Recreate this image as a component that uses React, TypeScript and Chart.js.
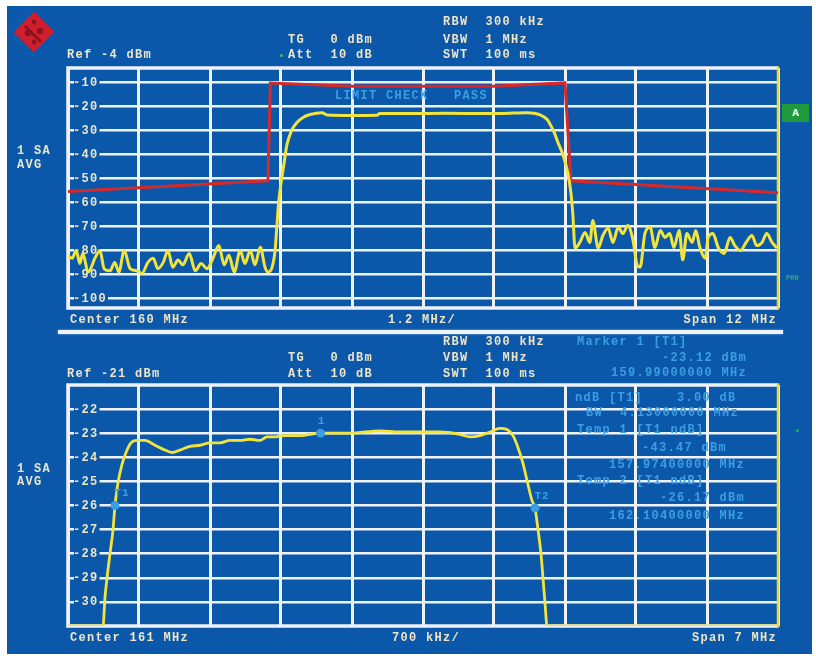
import React, { useEffect, useRef } from 'react';
import { Chart, registerables } from 'chart.js';

Chart.register(...registerables);

const BG = '#0b58ab';
const GRID = '#eef2f8';
const TRACE = '#f3e43c';
const LIMIT = '#d42a2a';
const CYAN = '#3b9ee3';
const TEXT = '#ece5c8';
const RIGHT_EDGE = '#e6d84a';

// ---------- top panel (Center 160 MHz, Span 12 MHz) ----------
const topXTicks = [154, 155.2, 156.4, 157.6, 158.8, 160, 161.2, 162.4, 163.6, 164.8, 166];
const topYTicks = [-10, -20, -30, -40, -50, -60, -70, -80, -90, -100];

const topFreq = [
  154.0, 154.07, 154.14, 154.2, 154.25, 154.34, 154.46, 154.54, 154.61, 154.71,
  154.79, 154.86, 154.95, 155.05, 155.17, 155.25, 155.35, 155.44, 155.52, 155.61,
  155.69, 155.77, 155.86, 155.94, 156.05, 156.15, 156.25, 156.35, 156.45, 156.55,
  156.64, 156.72, 156.81, 156.91, 156.99, 157.08, 157.16, 157.25, 157.33, 157.38,
  157.45, 157.5, 157.53, 157.56, 157.6, 157.65, 157.7, 157.78, 157.87, 157.98,
  158.09, 158.29, 158.38, 158.8, 159.22, 159.27, 159.8, 160.4, 161.0, 161.5,
  161.76, 161.98, 162.1, 162.15, 162.22, 162.28, 162.37, 162.45, 162.5, 162.53,
  162.57, 162.65, 162.74, 162.82, 162.87, 162.96, 163.04, 163.13, 163.21, 163.3,
  163.38, 163.46, 163.55, 163.62, 163.67, 163.75, 163.84, 163.92, 164.01, 164.09,
  164.17, 164.24, 164.33, 164.39, 164.46, 164.55, 164.61, 164.68, 164.77, 164.82,
  164.9, 164.99, 165.09, 165.19, 165.27, 165.37, 165.46, 165.56, 165.64, 165.73,
  165.81, 165.9, 165.98,
];
const topLevel = [
  -82, -83.3, -80, -85.5, -81.3, -89, -83, -80, -87.6, -88.5,
  -85, -89, -80, -87.6, -88.5, -89.6, -85, -83.3, -87.6, -85,
  -80, -87, -84, -86, -81.3, -88.5, -85.5, -87.6, -83.3, -78,
  -86, -82, -89, -80, -85.5, -80, -86, -78.7, -87, -89,
  -87, -80, -70, -60, -52, -44, -36, -30, -26.7, -24.5,
  -23.4, -22.6, -23.6, -23.8, -23.7, -23.0, -23.0, -22.9, -23.0, -22.8,
  -22.6, -23.5, -25.5, -27.5, -31, -35, -40.5, -48, -56, -64,
  -79, -76.7, -72.5, -76.7, -67.5, -79, -73.8, -70.8, -76.7, -70.4,
  -73, -69.6, -75.8, -86.2, -87, -73, -70.4, -78.8, -71.7, -74.6,
  -73, -78.8, -71.7, -84, -73, -76.7, -71.7, -78.8, -83.3, -74.6,
  -73, -78.8, -81.3, -74.6, -78, -80, -76.7, -73.8, -78, -76.7,
  -73, -76.7, -79,
];

const limitFreq = [154.0, 157.38, 157.42, 158.8, 161.2, 162.4, 162.5, 166.0];
const limitLevel = [-55.5, -51.0, -10.3, -11.6, -11.6, -10.2, -51.0, -56.0];

// ---------- bottom panel (Center 161 MHz, Span 7 MHz) ----------
const botXTicks = [157.5, 158.2, 158.9, 159.6, 160.3, 161.0, 161.7, 162.4, 163.1, 163.8, 164.5];
const botYTicks = [-22, -23, -24, -25, -26, -27, -28, -29, -30];

const botFreq = [
  157.5, 157.845, 157.865, 157.885, 157.914, 157.944, 157.963, 157.993, 158.032, 158.072,
  158.121, 158.18, 158.259, 158.358, 158.456, 158.525, 158.604, 158.703, 158.801, 158.9,
  158.999, 159.097, 159.196, 159.295, 159.393, 159.462, 159.541, 159.639, 159.787, 159.984,
  160.28, 160.576, 160.773, 160.97, 161.168, 161.365, 161.463, 161.562, 161.661, 161.759,
  161.828, 161.887, 161.937, 161.986, 162.025, 162.075, 162.104, 162.134, 162.163, 162.183,
  162.203, 162.223, 164.5,
];
const botLevel = [
  -31, -31, -29.8, -29.0, -28.0, -27.0, -26.0, -25.05, -24.3, -23.8,
  -23.4, -23.3, -23.3, -23.5, -23.7, -23.8, -23.7, -23.55, -23.5, -23.4,
  -23.4, -23.3, -23.3, -23.25, -23.3, -23.15, -23.15, -23.1, -23.1, -23.0,
  -23.0, -22.9, -22.95, -22.95, -22.95, -23.05, -23.15, -23.1, -22.95, -22.8,
  -22.85, -23.1, -23.6, -24.25, -24.95, -25.8, -26.1, -27.0, -28.0, -29.0,
  -30.05, -31, -31,
];

const markerFreq = [157.963, 159.99, 162.104];
const markerLevel = [-26.0, -23.0, -26.1];
const markerNames = ['T1', '1', 'T2'];

// ---------- text layout ----------
type Txt = { t: string; y: number; x?: number; r?: number; c?: string };
const texts: Txt[] = [
  { x: 67, y: 55, t: 'Ref -4 dBm' },
  { x: 288, y: 40, t: 'TG   0 dBm' },
  { x: 288, y: 55, t: 'Att  10 dB' },
  { x: 443, y: 22, t: 'RBW  300 kHz' },
  { x: 443, y: 40, t: 'VBW  1 MHz' },
  { x: 443, y: 55, t: 'SWT  100 ms' },
  { x: 17, y: 151, t: '1 SA' },
  { x: 17, y: 165, t: 'AVG' },
  { x: 335, y: 96, t: 'LIMIT CHECK   PASS', c: CYAN },
  { x: 70, y: 320, t: 'Center 160 MHz' },
  { x: 388, y: 320, t: '1.2 MHz/' },
  { r: 777, y: 320, t: 'Span 12 MHz' },
  { x: 443, y: 342, t: 'RBW  300 kHz' },
  { x: 443, y: 358, t: 'VBW  1 MHz' },
  { x: 443, y: 374, t: 'SWT  100 ms' },
  { x: 288, y: 358, t: 'TG   0 dBm' },
  { x: 288, y: 374, t: 'Att  10 dB' },
  { x: 67, y: 374, t: 'Ref -21 dBm' },
  { x: 577, y: 342, t: 'Marker 1 [T1]', c: CYAN },
  { r: 747, y: 358, t: '-23.12 dBm', c: CYAN },
  { r: 747, y: 373, t: '159.99000000 MHz', c: CYAN },
  { x: 575, y: 398, t: 'ndB [T1]    3.00 dB', c: CYAN },
  { r: 739, y: 413, t: 'BW  4.13000000 MHz', c: CYAN },
  { x: 577, y: 430, t: 'Temp 1 [T1 ndB]', c: CYAN },
  { r: 727, y: 448, t: '-43.47 dBm', c: CYAN },
  { r: 745, y: 465, t: '157.97400000 MHz', c: CYAN },
  { x: 577, y: 481, t: 'Temp 2 [T1 ndB]', c: CYAN },
  { r: 745, y: 498, t: '-26.17 dBm', c: CYAN },
  { r: 745, y: 516, t: '162.10400000 MHz', c: CYAN },
  { x: 17, y: 469, t: '1 SA' },
  { x: 17, y: 482, t: 'AVG' },
  { x: 70, y: 638, t: 'Center 161 MHz' },
  { x: 392, y: 638, t: '700 kHz/' },
  { r: 777, y: 638, t: 'Span 7 MHz' },
];

const FONT = '"Liberation Mono", "DejaVu Sans Mono", monospace';

function panelPlugin(yTicks: number[], marks?: { f: number[]; v: number[]; n: string[] }) {
  return {
    id: 'panel',
    beforeDatasetsDraw(chart: any) {
      const { ctx, chartArea: a, scales } = chart;
      ctx.save();
      ctx.lineWidth = 3.5;
      ctx.strokeStyle = GRID;
      ctx.beginPath();
      ctx.moveTo(a.right, a.top);
      ctx.lineTo(a.left, a.top);
      ctx.lineTo(a.left, a.bottom);
      ctx.lineTo(a.right, a.bottom);
      ctx.stroke();
      ctx.lineWidth = 2.5;
      ctx.strokeStyle = RIGHT_EDGE;
      ctx.beginPath();
      ctx.moveTo(a.right, a.top - 1.7);
      ctx.lineTo(a.right, a.bottom + 1.7);
      ctx.stroke();
      ctx.font = 'bold 12px ' + FONT;
      (ctx as any).letterSpacing = '1.3px';
      ctx.textBaseline = 'middle';
      for (const v of yTicks) {
        const py = scales.y.getPixelForValue(v);
        const t = String(v);
        const w = ctx.measureText(t).width;
        ctx.fillStyle = BG;
        ctx.fillRect(a.left + 6, py - 5, w, 10);
        ctx.fillStyle = TEXT;
        ctx.fillText(t, a.left + 5, py + 0.5);
      }
      (ctx as any).letterSpacing = '0px';
      ctx.restore();
    },
    afterDatasetsDraw(chart: any) {
      if (!marks) return;
      const { ctx, scales } = chart;
      ctx.save();
      ctx.font = 'bold 11px ' + FONT;
      (ctx as any).letterSpacing = '1px';
      ctx.fillStyle = CYAN;
      ctx.textAlign = 'center';
      ctx.textBaseline = 'middle';
      marks.f.forEach((f, i) => {
        const px = scales.x.getPixelForValue(f);
        const py = scales.y.getPixelForValue(marks.v[i]);
        const dx = marks.n[i].length > 1 ? 7 : 1;
        ctx.fillText(marks.n[i], px + dx, py - 12);
      });
      (ctx as any).letterSpacing = '0px';
      ctx.restore();
    },
  };
}

function makeOptions(
  xMin: number, xMax: number, yMin: number, yMax: number,
  xTicks: number[], yTicks: number[], padding: any,
): any {
  return {
    responsive: false,
    maintainAspectRatio: false,
    animation: false,
    events: [],
    layout: { padding, autoPadding: false },
    plugins: { legend: { display: false }, tooltip: { enabled: false } },
    elements: { point: { radius: 0 } },
    scales: {
      x: {
        type: 'linear', min: xMin, max: xMax,
        afterBuildTicks: (s: any) => { s.ticks = xTicks.map((v) => ({ value: v })); },
        afterFit: (s: any) => { s.height = 0; },
        ticks: { display: false },
        grid: { color: GRID, lineWidth: 3, drawTicks: false },
        border: { display: false },
      },
      y: {
        type: 'linear', min: yMin, max: yMax,
        afterBuildTicks: (s: any) => { s.ticks = yTicks.map((v) => ({ value: v })); },
        afterFit: (s: any) => { s.width = 0; },
        ticks: { display: false },
        grid: { color: GRID, lineWidth: 2.6, drawTicks: false },
        border: { display: false },
      },
    },
  };
}

const pts = (xs: number[], ys: number[]) => xs.map((x, i) => ({ x, y: ys[i] }));

export default function App() {
  const topRef = useRef<HTMLCanvasElement>(null);
  const botRef = useRef<HTMLCanvasElement>(null);

  useEffect(() => {
    const top = new Chart(topRef.current as HTMLCanvasElement, {
      type: 'line',
      data: {
        datasets: [
          {
            data: pts(topFreq, topLevel), borderColor: TRACE, borderWidth: 3,
            pointRadius: 0, cubicInterpolationMode: 'monotone', fill: false,
          } as any,
          {
            data: pts(limitFreq, limitLevel), borderColor: LIMIT, borderWidth: 3,
            pointRadius: 0, tension: 0, fill: false,
          },
        ],
      },
      options: makeOptions(154, 166, -104, -4, topXTicks, topYTicks,
        { left: 68, right: 38, top: 68, bottom: 32 }),
      plugins: [panelPlugin(topYTicks) as any],
    });
    const bot = new Chart(botRef.current as HTMLCanvasElement, {
      type: 'line',
      data: {
        datasets: [
          {
            data: pts(markerFreq, markerLevel), showLine: false, pointRadius: 4,
            pointStyle: 'circle', pointBackgroundColor: CYAN, pointBorderColor: CYAN,
            borderColor: CYAN,
          } as any,
          {
            data: pts(botFreq, botLevel), borderColor: TRACE, borderWidth: 2.8,
            pointRadius: 0, cubicInterpolationMode: 'monotone', fill: false,
          } as any,
        ],
      },
      options: makeOptions(157.5, 164.5, -31, -21, botXTicks, botYTicks,
        { left: 68, right: 38, top: 45, bottom: 34 }),
      plugins: [panelPlugin(botYTicks, { f: markerFreq, v: markerLevel, n: markerNames }) as any],
    });
    return () => {
      top.destroy();
      bot.destroy();
    };
  }, []);

  return (
    <div style={{ position: 'fixed', left: 0, top: 0, width: 816, height: 660, background: '#ffffff', overflow: 'hidden' }}>
      <div style={{ position: 'absolute', left: 7, top: 6, width: 805, height: 648, background: BG }} />
      <svg style={{ position: 'absolute', left: 14, top: 12 }} width={40} height={40} viewBox="0 0 40 40">
        <polygon points="20,1 39,20 20,39 1,20" fill="#cf1f2e" stroke="#cf1f2e" strokeWidth={2} strokeLinejoin="round" />
        <line x1="11" y1="14" x2="27" y2="30" stroke="#8e1420" strokeWidth={3} />
        <circle cx="14" cy="21" r="3.2" fill="#8e1420" />
        <circle cx="26" cy="19" r="3.2" fill="#8e1420" />
        <circle cx="20" cy="10" r="2.4" fill="#8e1420" />
        <circle cx="20" cy="30" r="2.4" fill="#8e1420" />
      </svg>
      <canvas ref={topRef} width={816} height={340}
        style={{ position: 'absolute', left: 0, top: 0, width: 816, height: 340 }} />
      <canvas ref={botRef} width={816} height={320}
        style={{ position: 'absolute', left: 0, top: 340, width: 816, height: 320 }} />
      <div style={{ position: 'absolute', left: 58, top: 330, width: 725, height: 4, background: '#eef4ff', boxShadow: '0 0 2px #9cc4f0' }} />
      <div style={{ position: 'absolute', left: 782, top: 104, width: 27, height: 18, background: '#1f9a3c', color: '#ffffff', font: 'bold 11px ' + FONT, lineHeight: '18px', textAlign: 'center' }}>A</div>
      <div style={{ position: 'absolute', left: 786, top: 273, color: '#2bb04a', font: 'bold 7px ' + FONT, lineHeight: '10px' }}>PRN</div>
      <div style={{ position: 'absolute', left: 280, top: 54, width: 3, height: 3, borderRadius: 2, background: '#2bd04a' }} />
      <div style={{ position: 'absolute', left: 796, top: 429, width: 3, height: 3, borderRadius: 2, background: '#2bb04a' }} />
      {texts.map((t, i) => (
        <div
          key={i}
          style={{
            position: 'absolute',
            top: t.y - 7,
            ...(t.r !== undefined ? { right: 816 - t.r } : { left: t.x }),
            color: t.c || TEXT,
            fontFamily: FONT,
            fontWeight: 'bold',
            fontSize: 12,
            lineHeight: '14px',
            letterSpacing: '1.3px',
            whiteSpace: 'pre',
          }}
        >
          {t.t}
        </div>
      ))}
    </div>
  );
}
